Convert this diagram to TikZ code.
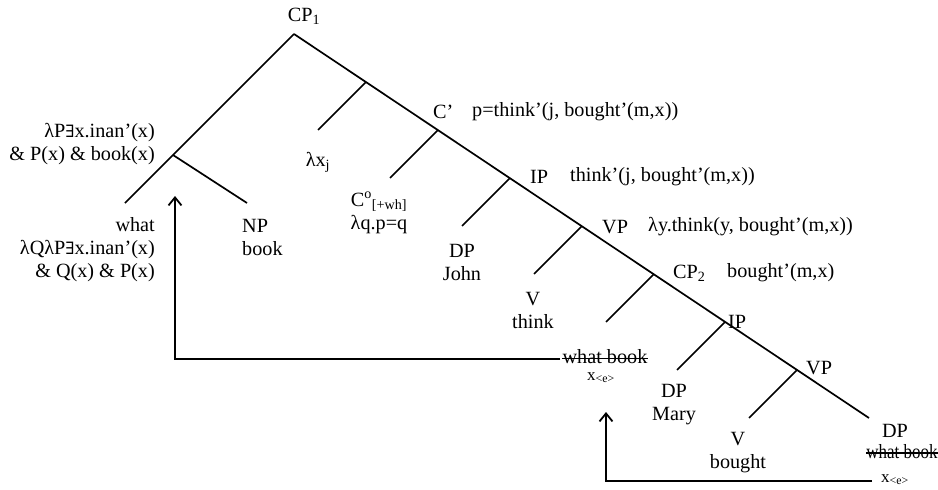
\documentclass[tikz,border=0pt]{standalone}
\usepackage{fontspec}
\setmainfont{Liberation Serif}
\newfontfamily\exf{DejaVu Serif}
\newcommand{\Ex}{{\exf\fontsize{17}{20}\selectfont ∃}}
\usetikzlibrary{arrows.meta}
\begin{document}
\begin{tikzpicture}[x=1pt,y=-1pt,
  tree/.style={line width=1.7pt},
  strike/.style={line width=1.5pt},
  mv/.style={line width=2pt,-{Straight Barb[length=8pt,width=13pt,line width=1.8pt]}},
  lbl/.style={font=\fontsize{20.2}{23}\selectfont, inner sep=0pt},
  sm/.style={font=\fontsize{17}{20}\selectfont, inner sep=0pt, anchor=base west},
  ]
\useasboundingbox (0,0) rectangle (938,490);
% spine
\coordinate (cp1) at (294,34);
\coordinate (m1) at (366,82);
\coordinate (m2) at (438,130);
\coordinate (m3) at (510,178);
\coordinate (m4) at (582,226);
\coordinate (m5) at (654,274);
\coordinate (m6) at (725,322);
\coordinate (m7) at (797,370);
\coordinate (m8) at (869,418);
\coordinate (b1) at (318,130);
\coordinate (b2) at (390,178);
\coordinate (b3) at (462,226);
\coordinate (b4) at (534,274);
\coordinate (b5) at (606,322);
\coordinate (b6) at (677,370);
\coordinate (b7) at (749,418);
\coordinate (spec) at (173,155);
\coordinate (whatend) at (125,203);
\coordinate (npend) at (247,203);
\draw[tree] (cp1) -- (m8);
\draw[tree] (cp1) -- (whatend);
\draw[tree] (spec) -- (npend);
\foreach \i in {1,...,7} { \draw[tree] (m\i) -- (b\i); }

% labels
\node[lbl] (tcp1) at (304,16) {CP\textsubscript{1}};
\node[lbl,anchor=east,align=right] (tspec) at (155,144) {λP\Ex x.inan’(x)\\ \& P(x) \& book(x)};
\node[lbl] (tlx) at (318,162) {λx\textsubscript{j}};
\node[lbl,anchor=west] (tcbar) at (433,112) {C’};
\node[lbl,anchor=west] (scbar) at (472,112) {p=think’(j, bought’(m,x))};
\node[lbl,anchor=west] (tip) at (530,177) {IP};
\node[lbl,anchor=west] (sip) at (570,177) {think’(j, bought’(m,x))};
\node[lbl,anchor=west] (tvp) at (602,227) {VP};
\node[lbl,anchor=west] (svp) at (648,227) {λy.think(y, bought’(m,x))};
\node[lbl,anchor=west] (tcp2) at (673,273) {CP\textsubscript{2}};
\node[lbl,anchor=west] (scp2) at (727,273) {bought’(m,x)};
\node[lbl,anchor=west] (tip2) at (728,322) {IP};
\node[lbl,anchor=west] (tvp2) at (806,368) {VP};
\node[lbl,align=center] (tc0) at (379,213) {C\textsuperscript{o}\textsubscript{[+wh]}\\λq.p=q};
\node[lbl,anchor=east,align=right] (twhat) at (155,250) {what\\λQλP\Ex x.inan’(x)\\\& Q(x) \& P(x)};
\node[lbl,anchor=west,align=left] (tnp) at (242,237) {NP\\book};
\node[lbl,align=center] (tjohn) at (462,262) {DP\\John};
\node[lbl,align=center] (tthink) at (533,310) {V\\think};
\node[lbl,anchor=base] (trace1) at (605,363) {what book};
\node[sm] (x1) at (587,380) {x\textsubscript{<e>}};
\node[lbl,align=center] (tmary) at (674,405) {DP\\Mary};
\node[lbl,align=center] (tbought) at (738,453) {V\\bought};
\node[lbl] (tdp) at (895,431) {DP};
\node[lbl,anchor=base] (trace2) at (902,458) {\scalebox{0.84}[1]{what book}};
\node[sm] (x2) at (881,482) {x\textsubscript{<e>}};

% strike-outs
\coordinate (s1w) at ([yshift=4.5pt]trace1.base west);
\coordinate (s1e) at ([yshift=4.5pt]trace1.base east);
\coordinate (s2w) at ([yshift=5pt]trace2.base west);
\coordinate (s2e) at ([yshift=5pt]trace2.base east);
\draw[strike] (s1w) -- (s1e);
\draw[strike] (s2w) -- (s2e);

% movement arrows
\coordinate (a1s) at ([xshift=-2pt]s1w);
\coordinate (a1t) at (175,196);
\draw[mv] (a1s) -| (a1t);
\coordinate (a2s) at ([xshift=-9pt,yshift=1pt]x2.base west);
\coordinate (a2t) at (606,412);
\draw[mv] (a2s) -| (a2t);
\end{tikzpicture}
\end{document}
